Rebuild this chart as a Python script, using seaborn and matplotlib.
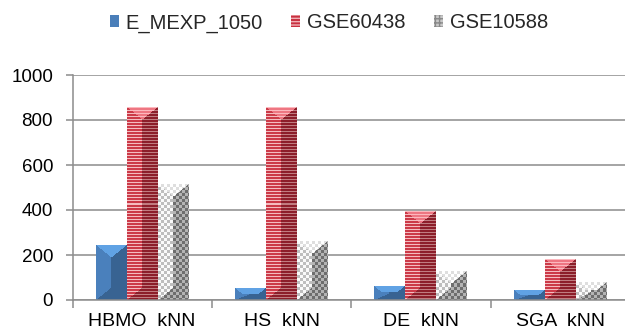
import numpy as np
import pandas as pd
import matplotlib
matplotlib.use("Agg")
import matplotlib.pyplot as plt
from matplotlib.patches import Patch
import seaborn as sns

categories = ["HBMO  kNN", "HS  kNN", "DE  kNN", "SGA  kNN"]
series = ["E_MEXP_1050", "GSE60438", "GSE10588"]
e_mexp_1050 = [244, 53, 59, 44]
gse60438 = [855, 855, 395, 182]
gse10588 = [515, 259, 126, 77]
y_ticks = [0, 200, 400, 600, 800, 1000]

df = pd.DataFrame({
    "method": categories * 3,
    "dataset": [s for s in series for _ in categories],
    "value": e_mexp_1050 + gse60438 + gse10588,
})

sns.set_theme(style="white")
plt.rcParams["font.family"] = ["Liberation Sans", "DejaVu Sans"]

W, H, DPI = 625, 332, 100
fig = plt.figure(figsize=(W / DPI, H / DPI), dpi=DPI)
ax = fig.add_axes([72.5 / W, 1 - 300 / H, 557.5 / W, 225 / H])

base = {"E_MEXP_1050": "#4a7eb9", "GSE60438": "#b3242f", "GSE10588": "#a0a0a0"}
sns.barplot(data=df, x="method", y="value", hue="dataset", hue_order=series,
            order=categories, palette=base, width=0.667, gap=0, ax=ax,
            legend=False, saturation=1, errorbar=None)

ax.set_xlim(-0.5, 3.5)
ax.set_ylim(0, 1000)
ax.set_yticks(y_ticks)
ax.set_xlabel("")
ax.set_ylabel("")

# shading per facet of a bevelled bar: region -> (pattern colour a, pattern colour b)
styles = {
    "E_MEXP_1050": dict(kind="solid",
                        top=((96, 162, 228), (96, 162, 228)),
                        left=((74, 128, 188), (74, 128, 188)),
                        right=((56, 99, 146), (56, 99, 146))),
    "GSE60438": dict(kind="stripe",
                     top=((252, 184, 190), (238, 118, 130)),
                     left=((244, 188, 192), (204, 58, 72)),
                     right=((192, 124, 128), (140, 30, 42))),
    "GSE10588": dict(kind="checker",
                     top=((255, 255, 255), (222, 222, 222)),
                     left=((250, 250, 250), (190, 190, 190)),
                     right=((180, 180, 180), (110, 110, 110))),
}


def bar_texture(w_px, h_px, st):
    nw, nh = max(int(round(w_px)), 1), max(int(round(h_px)), 1)
    v, u = np.mgrid[0:nh, 0:nw] + 0.5
    hw = nw / 2.0
    d = min(0.8 * hw, nh / 2.0)
    vb = nh - v
    top = (v / 0.8 + np.abs(u - hw) < hw) & (v < d)
    bottom = (u < hw) & (vb < u * d / hw)
    right = (u >= hw) | bottom
    if st["kind"] == "stripe":
        pat = (v.astype(int) % 3 == 0)
    elif st["kind"] == "checker":
        pat = ((u.astype(int) // 3 + v.astype(int) // 3) % 2 == 0)
    else:
        pat = np.ones_like(u, dtype=bool)
    img = np.zeros((nh, nw, 3))
    for region, mask in (("left", ~right & ~top), ("right", right & ~top), ("top", top)):
        a = np.array(st[region][0]) / 255.0
        b = np.array(st[region][1]) / 255.0
        img[mask & pat] = a
        img[mask & ~pat] = b
    return img


for name, container in zip(series, ax.containers):
    for patch in container:
        x0, y0 = patch.get_x(), patch.get_y()
        w, h = patch.get_width(), patch.get_height()
        (px0, py0), (px1, py1) = ax.transData.transform([(x0, y0), (x0 + w, y0 + h)])
        tex = bar_texture(px1 - px0, py1 - py0, styles[name])
        ax.imshow(tex, extent=(x0, x0 + w, y0, y0 + h), aspect="auto",
                  interpolation="nearest", zorder=3)
        patch.set_alpha(0)

ax.set_xlim(-0.5, 3.5)
ax.set_ylim(0, 1000)

grid_c = "#8c8c8c"
ax.yaxis.grid(True, color=grid_c, linewidth=1.1)
ax.set_axisbelow(True)
for s in ("top", "right"):
    ax.spines[s].set_visible(False)
for s in ("left", "bottom"):
    ax.spines[s].set_color(grid_c)
    ax.spines[s].set_linewidth(1.1)
    ax.spines[s].set_zorder(4)

ax.tick_params(axis="y", which="major", left=True, length=5, width=1.1,
               color=grid_c, pad=9, labelsize=13.5, labelcolor="black")
ax.set_xticks(np.arange(4))
ax.set_xticklabels(categories)
ax.set_xticks([-0.5, 0.5, 1.5, 2.5], minor=True)
ax.tick_params(axis="x", which="major", length=0, pad=9, labelsize=14,
               labelcolor="black")
ax.tick_params(axis="x", which="minor", bottom=True, length=6, width=1.1,
               color=grid_c)

handles = [
    Patch(facecolor="#4a7eb9", edgecolor="#4a7eb9", linewidth=0),
    Patch(facecolor="#c83040", edgecolor="#f0b0b5", hatch="-----", linewidth=0),
    Patch(facecolor="#c8c8c8", edgecolor="#888888", hatch="++++", linewidth=0),
]
fig.legend(handles, series, loc="center", bbox_to_anchor=(329 / W, 1 - 23 / H),
           ncol=3, frameon=False, fontsize=14.5, handlelength=0.45,
           handleheight=0.5, handletextpad=0.35, columnspacing=1.4)

fig.savefig("out.png", dpi=DPI)
